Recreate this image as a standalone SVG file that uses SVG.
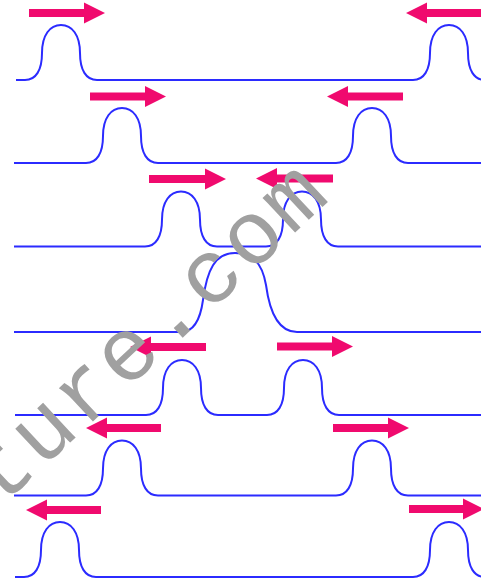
<svg xmlns="http://www.w3.org/2000/svg" width="481" height="580" viewBox="0 0 481 580">
<style>
.wave{fill:none;stroke:#2b2bff;stroke-width:2;stroke-linejoin:round}
.arr{fill:#f00a6e}
.wm{font-family:"Liberation Mono","DejaVu Sans Mono",monospace;font-size:90px;fill:#a0a0a0;letter-spacing:3px}
</style>
<rect width="481" height="580" fill="#ffffff"/>
<g id="row1">
<path class="wave" d="M16,80 L25,80 C36,80 42,70 42,53 C42,35 50,25 61,25 C72,25 80,35 80,53 C80,70 86,80 97,80 L413,80 C424,80 430,70 430,53 C430,35 438,25 449,25 C460,25 468,35 468,53 C468,70 474,80 485,80"/>
<path class="arr" d="M29,9 L84,9 L84,2.5 L105,13 L84,23.5 L84,17 L29,17 Z"/>
<path class="arr" d="M485,9 L427,9 L427,2.5 L406,13 L427,23.5 L427,17 L485,17 Z"/>
</g>
<g id="row2">
<path class="wave" d="M14,163 L86,163 C97,163 103,153 103,136 C103,118 111,108 122,108 C133,108 141,118 141,136 C141,153 147,163 158,163 L336,163 C347,163 353,153 353,136 C353,118 361,108 372,108 C383,108 391,118 391,136 C391,153 397,163 408,163 L481,163"/>
<path class="arr" d="M90,92.5 L145,92.5 L145,86 L166,96.5 L145,107 L145,100.5 L90,100.5 Z"/>
<path class="arr" d="M403,92.5 L348,92.5 L348,86 L327,96.5 L348,107 L348,100.5 L403,100.5 Z"/>
</g>
<g id="row3">
<path class="wave" d="M14,246.5 L145,246.5 C156,246.5 162,236.5 162,219.5 C162,201.5 170,191.5 181,191.5 C192,191.5 200,201.5 200,219.5 C200,236.5 206,246.5 217,246.5 L266,246.5 C277,246.5 283,236.5 283,219.5 C283,201.5 291,191.5 302,191.5 C313,191.5 321,201.5 321,219.5 C321,236.5 327,246.5 338,246.5 L481,246.5"/>
<path class="arr" d="M149,175 L205,175 L205,168.5 L226,179 L205,189.5 L205,183 L149,183 Z"/>
<path class="arr" d="M333,174.5 L277,174.5 L277,168 L256,178.5 L277,189 L277,182.5 L333,182.5 Z"/>
</g>
<g id="row4">
<path class="wave" d="M14,332 L181,332 C193,332 200,322 203,300 C207,270 215,253 235,253 C252,253 262,262 266,285 C270,315 280,332 297,332 L481,332"/>
</g>
<g id="row5">
<path class="wave" d="M15,415 L146,415 C157,415 163,405 163,388 C163,370 171,360 182,360 C193,360 201,370 201,388 C201,405 207,415 218,415 L267,415 C278,415 284,405 284,388 C284,370 292,360 303,360 C314,360 322,370 322,388 C322,405 328,415 339,415 L481,415"/>
<path class="arr" d="M206,343 L151,343 L151,336.5 L130,347 L151,357.5 L151,351 L206,351 Z"/>
<path class="arr" d="M277,342.5 L332,342.5 L332,336 L353,346.5 L332,357 L332,350.5 L277,350.5 Z"/>
</g>
<g id="row6">
<path class="wave" d="M14,495.5 L86,495.5 C97,495.5 103,485.5 103,468.5 C103,450.5 111,440.5 122,440.5 C133,440.5 141,450.5 141,468.5 C141,485.5 147,495.5 158,495.5 L336,495.5 C347,495.5 353,485.5 353,468.5 C353,450.5 361,440.5 372,440.5 C383,440.5 391,450.5 391,468.5 C391,485.5 397,495.5 408,495.5 L481,495.5"/>
<path class="arr" d="M161,424 L107,424 L107,417.5 L86,428 L107,438.5 L107,432 L161,432 Z"/>
<path class="arr" d="M333,424 L388,424 L388,417.5 L409,428 L388,438.5 L388,432 L333,432 Z"/>
</g>
<g id="row7">
<path class="wave" d="M15,577 L24,577 C35,577 41,567 41,550 C41,532 49,522 60,522 C71,522 79,532 79,550 C79,567 85,577 96,577 L413,577 C424,577 430,567 430,550 C430,532 438,522 449,522 C460,522 468,532 468,550 C468,567 474,577 485,577"/>
<path class="arr" d="M101,506 L47,506 L47,499.5 L26,510 L47,520.5 L47,514 L101,514 Z"/>
<path class="arr" d="M409,505 L463,505 L463,498.5 L484,509 L463,519.5 L463,513 L409,513 Z"/>
</g>
<g id="watermark">
<text class="wm" x="0" y="0" transform="translate(0,508) rotate(-43)">ture.com</text>
</g>
</svg>
